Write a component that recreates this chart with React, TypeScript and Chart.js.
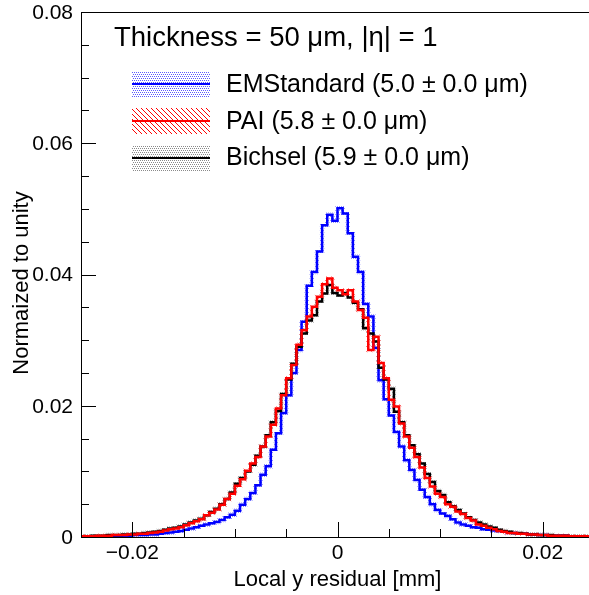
import { useEffect, useRef } from "react";
import { Chart, registerables } from "chart.js";
Chart.register(...registerables);

// ---- data ----
const xMin = -0.025;
const xMax = 0.025;
const binWidth = 0.0005;
const yMin = 0;
const yMax = 0.08;
const xMajorTicks = [-0.02, 0, 0.02];
const xTickLabels = ["\u22120.02", "0", "0.02"];
const xMinorTicks = [-0.02, -0.015, -0.01, -0.005, 0, 0.005, 0.01, 0.015, 0.02];
const yMajorTicks = [0, 0.02, 0.04, 0.06, 0.08];
const yTickLabels = ["0", "0.02", "0.04", "0.06", "0.08"];
const yMinorTicks = [0.005, 0.01, 0.015, 0.025, 0.03, 0.035, 0.045, 0.05, 0.055, 0.065, 0.07, 0.075];

const emStandard = [
  0.0000, 0.0000, 0.0001, 0.0001, 0.0001, 0.0001, 0.0001, 0.0002, 0.0002, 0.0002,
  0.0003, 0.0003, 0.0003, 0.0004, 0.0004, 0.0005, 0.0006, 0.0007, 0.0008, 0.0009,
  0.0011, 0.0013, 0.0015, 0.0017, 0.0019, 0.0021, 0.0023, 0.0026, 0.0030, 0.0034,
  0.0040, 0.0049, 0.0058, 0.0067, 0.0079, 0.0095, 0.0108, 0.0133, 0.0158, 0.0189,
  0.0216, 0.0250, 0.0285, 0.0328, 0.0383, 0.0404, 0.0435, 0.0475, 0.0491, 0.0482,
  0.0501, 0.0493, 0.0463, 0.0427, 0.0404, 0.0355, 0.0336, 0.0288, 0.0239, 0.0210,
  0.0185, 0.0160, 0.0138, 0.0117, 0.0102, 0.0087, 0.0072, 0.0061, 0.0050, 0.0041,
  0.0036, 0.0032, 0.0027, 0.0022, 0.0019, 0.0017, 0.0015, 0.0014, 0.0012, 0.0011,
  0.0010, 0.0009, 0.0008, 0.0007, 0.0006, 0.0005, 0.0005, 0.0004, 0.0004, 0.0003,
  0.0003, 0.0002, 0.0002, 0.0002, 0.0002, 0.0001, 0.0001, 0.0001, 0.0001, 0.0001,
];
const pai = [
  0.0001, 0.0001, 0.0001, 0.0002, 0.0002, 0.0002, 0.0003, 0.0003, 0.0003, 0.0004,
  0.0004, 0.0005, 0.0005, 0.0006, 0.0007, 0.0008, 0.0010, 0.0012, 0.0013, 0.0015,
  0.0018, 0.0021, 0.0024, 0.0027, 0.0033, 0.0037, 0.0042, 0.0049, 0.0058, 0.0066,
  0.0078, 0.0088, 0.0101, 0.0112, 0.0122, 0.0138, 0.0153, 0.0171, 0.0196, 0.0216,
  0.0242, 0.0262, 0.0293, 0.0315, 0.0336, 0.0351, 0.0366, 0.0385, 0.0394, 0.0380,
  0.0376, 0.0370, 0.0376, 0.0359, 0.0346, 0.0334, 0.0285, 0.0305, 0.0265, 0.0242,
  0.0209, 0.0199, 0.0173, 0.0153, 0.0136, 0.0122, 0.0106, 0.0090, 0.0077, 0.0066,
  0.0061, 0.0050, 0.0046, 0.0039, 0.0035, 0.0029, 0.0025, 0.0019, 0.0017, 0.0014,
  0.0012, 0.0009, 0.0008, 0.0006, 0.0006, 0.0005, 0.0005, 0.0004, 0.0004, 0.0003,
  0.0003, 0.0002, 0.0002, 0.0002, 0.0002, 0.0001, 0.0001, 0.0001, 0.0001, 0.0001,
];
const bichsel = [
  0.0001, 0.0001, 0.0002, 0.0002, 0.0002, 0.0003, 0.0003, 0.0003, 0.0004, 0.0004,
  0.0005, 0.0005, 0.0006, 0.0007, 0.0008, 0.0009, 0.0011, 0.0013, 0.0014, 0.0016,
  0.0019, 0.0022, 0.0025, 0.0028, 0.0033, 0.0038, 0.0043, 0.0050, 0.0058, 0.0068,
  0.0081, 0.0090, 0.0100, 0.0110, 0.0124, 0.0138, 0.0155, 0.0175, 0.0192, 0.0218,
  0.0240, 0.0264, 0.0290, 0.0310, 0.0330, 0.0338, 0.0359, 0.0371, 0.0384, 0.0372,
  0.0368, 0.0372, 0.0365, 0.0357, 0.0347, 0.0318, 0.0310, 0.0298, 0.0258, 0.0240,
  0.0226, 0.0191, 0.0175, 0.0155, 0.0140, 0.0126, 0.0112, 0.0096, 0.0084, 0.0070,
  0.0064, 0.0053, 0.0047, 0.0041, 0.0036, 0.0030, 0.0026, 0.0022, 0.0019, 0.0016,
  0.0014, 0.0011, 0.0009, 0.0008, 0.0006, 0.0006, 0.0005, 0.0004, 0.0004, 0.0003,
  0.0003, 0.0003, 0.0002, 0.0002, 0.0002, 0.0001, 0.0001, 0.0001, 0.0001, 0.0001,
];

const seriesNames = [
  "EMStandard (5.0 \u00b1 0.0 \u03bcm)",
  "PAI (5.8 \u00b1 0.0 \u03bcm)",
  "Bichsel (5.9 \u00b1 0.0 \u03bcm)",
];
const seriesColors = ["#0000ff", "#ff0000", "#000000"];
const bandColors = ["#9090ff", "#ff8080", "#b0b0b0"];
const headerText = "Thickness = 50 \u03bcm, |\u03b7| = 1";
const xTitle = "Local y residual [mm]";
const yTitle = "Normaized to unity";

const FONT = '"Liberation Sans", Arial, Helvetica, sans-serif';

function toSteps(vals: number[]) {
  const pts = vals.map((v, i) => ({ x: xMin + i * binWidth, y: v }));
  pts.push({ x: xMin + vals.length * binWidth, y: vals[vals.length - 1] });
  return pts;
}

function dotPattern(ctx: CanvasRenderingContext2D, color: string) {
  const c = document.createElement("canvas");
  c.width = 4;
  c.height = 4;
  const g = c.getContext("2d")!;
  g.fillStyle = color;
  g.fillRect(0, 0, 1, 1);
  g.fillRect(2, 0, 1, 1);
  g.fillRect(1, 2, 1, 1);
  g.fillRect(3, 2, 1, 1);
  return ctx.createPattern(c, "repeat")!;
}

function hatchPattern(ctx: CanvasRenderingContext2D, color: string) {
  const c = document.createElement("canvas");
  c.width = 5;
  c.height = 5;
  const g = c.getContext("2d")!;
  g.fillStyle = color;
  for (let k = 0; k < 5; k++) g.fillRect(k, k, 1, 1);
  return ctx.createPattern(c, "repeat")!;
}

const overlay = {
  id: "rootStyle",
  afterDraw(chart: any) {
    const { ctx, chartArea } = chart;
    const { left, right, top, bottom } = chartArea;
    const xs = chart.scales.x;
    const ys = chart.scales.y;
    ctx.save();
    // frame
    ctx.strokeStyle = "#000";
    ctx.lineWidth = 1;
    ctx.strokeRect(left + 0.5, top + 0.5, right - left - 1, bottom - top);
    // ticks
    ctx.beginPath();
    yMajorTicks.forEach((v) => {
      const p = Math.round(ys.getPixelForValue(v)) + 0.5;
      ctx.moveTo(left, p);
      ctx.lineTo(left + 15, p);
    });
    yMinorTicks.forEach((v) => {
      const p = Math.round(ys.getPixelForValue(v)) + 0.5;
      ctx.moveTo(left, p);
      ctx.lineTo(left + 8, p);
    });
    xMinorTicks.forEach((v) => {
      const p = Math.round(xs.getPixelForValue(v)) + 0.5;
      const major = xMajorTicks.some((m) => Math.abs(m - v) < 1e-9);
      ctx.moveTo(p, bottom);
      ctx.lineTo(p, bottom - (major ? 15 : 8));
    });
    ctx.stroke();

    // tick labels
    ctx.fillStyle = "#000";
    ctx.font = `21px ${FONT}`;
    ctx.textAlign = "right";
    ctx.textBaseline = "middle";
    yMajorTicks.forEach((v, i) => {
      ctx.fillText(yTickLabels[i], left - 8, ys.getPixelForValue(v) + 1);
    });
    ctx.textAlign = "center";
    xMajorTicks.forEach((v, i) => {
      ctx.fillText(xTickLabels[i], xs.getPixelForValue(v), 553);
    });

    // axis titles
    ctx.font = `22px ${FONT}`;
    ctx.fillText(xTitle, (left + right) / 2, 580);
    ctx.save();
    ctx.translate(22, 283);
    ctx.rotate(-Math.PI / 2);
    ctx.fillText(yTitle, 0, 0);
    ctx.restore();

    // legend header
    ctx.textAlign = "left";
    ctx.textBaseline = "alphabetic";
    ctx.font = `27.5px ${FONT}`;
    ctx.fillText(headerText, 114, 46);

    // legend entries
    const boxX = 132;
    const boxW = 78;
    const boxH = 26;
    const centers = [84, 121, 158];
    const baselines = [92, 128.5, 165];
    centers.forEach((cy, i) => {
      const y0 = cy - boxH / 2;
      ctx.save();
      ctx.beginPath();
      ctx.rect(boxX, y0, boxW, boxH);
      ctx.clip();
      if (i === 0) {
        ctx.fillStyle = dotPattern(ctx, "#5a5aff");
        ctx.fillRect(boxX, y0, boxW, boxH);
      } else if (i === 1) {
        ctx.strokeStyle = "#ff0000";
        ctx.lineWidth = 1;
        ctx.beginPath();
        for (let k = -boxH; k < boxW + boxH; k += 5) {
          ctx.moveTo(boxX + k, y0);
          ctx.lineTo(boxX + k + boxH, y0 + boxH);
        }
        ctx.stroke();
      } else {
        ctx.fillStyle = dotPattern(ctx, "#8a8a8a");
        ctx.fillRect(boxX, y0, boxW, boxH);
      }
      ctx.restore();
      ctx.strokeStyle = seriesColors[i];
      ctx.lineWidth = 2;
      ctx.beginPath();
      ctx.moveTo(boxX, cy);
      ctx.lineTo(boxX + boxW, cy);
      ctx.stroke();
      ctx.fillStyle = "#000";
      ctx.font = `25px ${FONT}`;
      ctx.fillText(seriesNames[i], 226, baselines[i]);
    });
    ctx.restore();
  },
};

export default function App() {
  const ref = useRef<HTMLCanvasElement | null>(null);
  useEffect(() => {
    if (!ref.current) return;
    const c2d = ref.current.getContext("2d")!;
    const mk = (vals: number[], color: any, order: number, width: number) => ({
      data: toSteps(vals),
      borderColor: color,
      backgroundColor: color,
      borderWidth: width,
      pointRadius: 0,
      stepped: true as const,
      fill: false,
      tension: 0,
      order,
    });
    const chart = new Chart(ref.current, {
      type: "line",
      data: {
        datasets: [
          mk(pai, seriesColors[1], 0, 2.5),
          mk(bichsel, seriesColors[2], 1, 2.5),
          mk(emStandard, seriesColors[0], 2, 2.5),
          mk(pai, hatchPattern(c2d, bandColors[1]), 3, 4.5),
          mk(bichsel, dotPattern(c2d, bandColors[2]), 4, 4.5),
          mk(emStandard, dotPattern(c2d, bandColors[0]), 5, 4.5),
        ],
      },
      options: {
        responsive: false,
        animation: false,
        layout: { padding: { left: 81, top: 12, right: 6, bottom: 58 } },
        scales: {
          x: { type: "linear", min: xMin, max: xMax, display: false },
          y: { type: "linear", min: yMin, max: yMax, display: false },
        },
        plugins: { legend: { display: false }, tooltip: { enabled: false } },
      },
      plugins: [overlay],
    });
    return () => chart.destroy();
  }, []);
  return (
    <div style={{ position: "absolute", left: 0, top: 0, width: 589, height: 595, overflow: "hidden", background: "#fff" }}>
      <canvas ref={ref} width={600} height={595} style={{ display: "block", width: 600, height: 595 }} />
    </div>
  );
}
